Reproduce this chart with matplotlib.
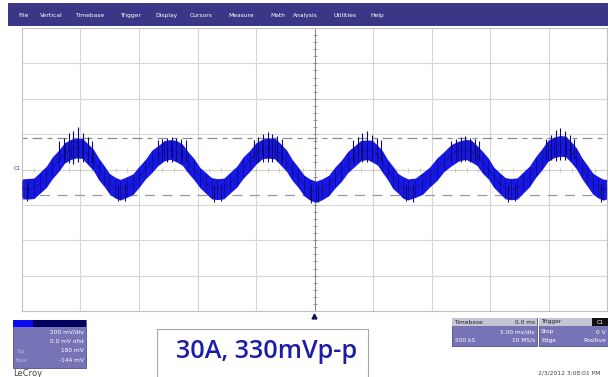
import numpy as np
import matplotlib.pyplot as plt
from matplotlib.patches import Rectangle

###########################################################
# data (time in ms, voltage in mV)

t_ms = [-25.0,
        -24.5, -23.98, -23.45, -22.93, -22.4, -21.88, -21.35, -20.83,
        -20.3, -19.84, -19.38, -18.91, -18.45, -17.99, -17.53, -17.06,
        -16.6, -16.06, -15.53, -14.99, -14.45, -13.91, -13.38, -12.84,
        -12.3, -11.8, -11.3, -10.8, -10.3, -9.8, -9.3, -8.8,
        -8.3, -7.75, -7.2, -6.65, -6.1, -5.55, -5.0, -4.45,
        -3.9, -3.4, -2.9, -2.4, -1.9, -1.4, -0.9, -0.4,
        0.1, 0.65, 1.2, 1.75, 2.3, 2.85, 3.4, 3.95,
        4.5, 4.94, 5.38, 5.81, 6.25, 6.69, 7.13, 7.56,
        8.0, 8.61, 9.23, 9.84, 10.45, 11.06, 11.68, 12.29,
        12.9, 13.39, 13.88, 14.36, 14.85, 15.34, 15.83, 16.31,
        16.8, 17.33, 17.85, 18.38, 18.9, 19.43, 19.95, 20.48,
        21.0, 21.46, 21.93, 22.39, 22.85, 23.31, 23.78, 24.24,
        24.7, 25.0]

v_mid = [-108,
         -113, -104, -78, -40, 6, 51, 89, 115,
         124, 115, 89, 51, 6, -40, -78, -104,
         -113, -104, -80, -43, 0, 43, 80, 104,
         113, 104, 80, 43, 0, -43, -80, -104,
         -113, -104, -78, -40, 6, 51, 89, 115,
         124, 115, 88, 47, 0, -47, -88, -115,
         -124, -115, -89, -51, -6, 40, 78, 104,
         113, 104, 80, 43, 0, -43, -80, -104,
         -113, -104, -80, -43, 0, 43, 80, 104,
         113, 104, 80, 43, 0, -43, -80, -104,
         -113, -104, -77, -36, 12, 59, 100, 127,
         136, 127, 100, 59, 12, -36, -77, -104,
         -113, -110]

# ripple band above / below the trace centre (mV)
band_up = [55,
           62, 56, 64, 58, 66, 57, 63, 55,
           54, 62, 57, 65, 59, 63, 56, 61,
           57, 63, 55, 61, 58, 66, 54, 60,
           56, 60, 64, 57, 62, 55, 63, 58,
           61, 55, 63, 58, 65, 56, 62, 57,
           55, 63, 58, 64, 56, 61, 57, 62,
           58, 62, 56, 65, 59, 63, 55, 60,
           54, 61, 57, 63, 56, 62, 58, 64,
           60, 55, 62, 57, 64, 58, 61, 56,
           57, 63, 56, 60, 65, 55, 62, 58,
           62, 57, 64, 56, 61, 58, 65, 57,
           56, 62, 58, 63, 55, 61, 57, 64,
           58, 55]
band_dn = [58,
           54, 60, 55, 62, 57, 63, 52, 58,
           58, 53, 61, 56, 64, 55, 60, 57,
           60, 54, 62, 57, 53, 61, 58, 55,
           55, 61, 56, 63, 58, 60, 54, 62,
           57, 62, 54, 60, 56, 63, 59, 53,
           60, 55, 63, 57, 62, 54, 61, 58,
           62, 56, 60, 54, 61, 57, 63, 55,
           56, 62, 55, 60, 58, 64, 53, 59,
           59, 54, 61, 56, 63, 55, 60, 57,
           55, 61, 57, 64, 53, 60, 56, 62,
           58, 63, 55, 61, 57, 62, 54, 60,
           61, 55, 60, 56, 63, 58, 62, 57,
           60, 56]

# ripple spikes around the crests and troughs
spike_t = [-21.8, -21.4, -21.0, -20.6, -20.2, -19.8, -19.4, -19.0,
           -13.4, -13.0, -12.6, -12.2, -11.8, -11.4, -11.0,
           -5.2, -4.8, -4.4, -4.0, -3.6, -3.2, -2.8,
           3.3, 3.7, 4.1, 4.5, 4.9, 5.3, 5.7,
           11.7, 12.1, 12.5, 12.9, 13.3, 13.7, 14.1,
           19.8, 20.2, 20.6, 21.0, 21.4, 21.8, 22.2,
           -24.6, -16.8, -16.2, -8.6, -8.0, -0.3, 0.3, 7.8, 8.4, 16.5, 17.1, 24.5]
spike_hi = [160, 180, 205, 215, 240, 205, 185, 160,
            165, 175, 180, 185, 178, 170, 165,
            165, 185, 200, 210, 200, 190, 170,
            165, 185, 205, 215, 195, 180, 165,
            160, 170, 182, 188, 180, 170, 160,
            175, 195, 222, 237, 215, 195, 175,
            -80, -85, -80, -85, -80, -90, -85, -80, -85, -85, -80, -80]
spike_lo = [50, 40, 35, 30, 40, 45, 40, 35,
            50, 45, 40, 45, 50, 45, 45,
            50, 45, 40, 40, 45, 50, 45,
            45, 40, 40, 45, 50, 50, 50,
            50, 45, 45, 50, 45, 50, 50,
            60, 55, 50, 55, 55, 60, 60,
            -180, -178, -180, -182, -178, -190, -185, -178, -182, -185, -178, -185]

# cursor levels (mV)
cursor_hi = 180
cursor_lo = -144

menu_items = ['File', 'Vertical', 'Timebase', 'Trigger', 'Display', 'Cursors',
              'Measure', 'Math', 'Analysis', 'Utilities', 'Help']
menu_x = [18, 40, 75, 120, 155, 190, 228, 270, 293, 333, 370]

ch_lines = ['200 mV/div', '0.0 mV ofst', '180 mV', '-144 mV']
caption = '30A, 330mVp-p'

###########################################################
# figure

W, H = 608, 377
fig = plt.figure(figsize=(W / 100, H / 100), dpi=100)
fig.patch.set_facecolor('white')

# overlay in pixel coordinates for the scope frame
ov = fig.add_axes([0, 0, 1, 1], zorder=0)
ov.set_xlim(0, W)
ov.set_ylim(H, 0)
ov.axis('off')

# menu bar
ov.add_patch(Rectangle((8, 3), 600, 23, facecolor='#3b3787', edgecolor='none'))
for name, x in zip(menu_items, menu_x):
    ov.text(x, 17, name, color='white', fontsize=4.3, va='baseline', ha='left')

# channel descriptor box
ov.add_patch(Rectangle((13, 320), 73, 48, facecolor='#7674b6', edgecolor='#50508a', lw=0.6))
ov.add_patch(Rectangle((13, 320), 73, 7, facecolor='#000060', edgecolor='none'))
ov.add_patch(Rectangle((13, 320), 20, 7, facecolor='#0a0af0', edgecolor='none'))
for i, s in enumerate(ch_lines):
    ov.text(84, 332 + i * 9.5, s, color='white', fontsize=4.2, ha='right', va='center')
ov.text(16, 351, 'Top', color='#b8b8e0', fontsize=3.5, ha='left', va='center')
ov.text(16, 360.5, 'Base', color='#b8b8e0', fontsize=3.5, ha='left', va='center')
ov.text(13, 373, 'LeCroy', color='#404048', fontsize=6, ha='left', va='center')

# caption box
ov.add_patch(Rectangle((157, 329), 211, 50, facecolor='white', edgecolor='#a8a8a8', lw=0.8))
ov.text(267, 352, caption, color='#1c1ca8', fontsize=18.2, ha='center', va='center',
        family='Open Sans', weight='semibold')

# timebase / trigger boxes
ov.add_patch(Rectangle((452, 318), 85, 28, facecolor='#7674b6', edgecolor='#50508a', lw=0.6))
ov.add_patch(Rectangle((452, 318), 85, 8, facecolor='#c4c4d4', edgecolor='none'))
ov.add_patch(Rectangle((539, 318), 69, 28, facecolor='#7674b6', edgecolor='#50508a', lw=0.6))
ov.add_patch(Rectangle((539, 318), 69, 8, facecolor='#c4c4d4', edgecolor='none'))
ov.add_patch(Rectangle((592, 318), 16, 8, facecolor='#101010', edgecolor='none'))
ov.text(454, 322, 'Timebase', color='#202030', fontsize=4.2, va='center')
ov.text(535, 322, '0.0 ms', color='#202030', fontsize=4.2, va='center', ha='right')
ov.text(541, 322, 'Trigger', color='#202030', fontsize=4.2, va='center')
ov.text(600, 322, 'C1', color='white', fontsize=3.8, va='center', ha='center')
ov.text(535, 332, '5.00 ms/div', color='white', fontsize=4.2, va='center', ha='right')
ov.text(455, 340.5, '500 kS', color='white', fontsize=4.2, va='center')
ov.text(535, 340.5, '10 MS/s', color='white', fontsize=4.2, va='center', ha='right')
ov.text(541, 332, 'Stop', color='white', fontsize=4.2, va='center')
ov.text(606, 332, '0 V', color='white', fontsize=4.2, va='center', ha='right')
ov.text(541, 340.5, 'Edge', color='white', fontsize=4.2, va='center')
ov.text(606, 340.5, 'Positive', color='white', fontsize=4.2, va='center', ha='right')
ov.text(601, 373, '2/3/2012 3:08:01 PM', color='#404048', fontsize=4.3, ha='right', va='center')

# channel marker and trigger position marker
ov.text(17, 168, 'C1', color='#2a2ad0', fontsize=3.8, ha='center', va='center')
ov.plot([314], [316], marker='^', color='#101060', markersize=3.5)

###########################################################
# scope screen

ax = fig.add_axes([22 / W, 1 - 311 / H, 585 / W, 283 / H], zorder=1)
ax.set_xlim(-25, 25)
ax.set_ylim(-800, 800)
ax.set_facecolor('white')

for x in range(-20, 25, 5):
    if x != 0:
        ax.axvline(x, color='#d6d6d6', lw=0.8, zorder=0)
for y in range(-600, 800, 200):
    if y != 0:
        ax.axhline(y, color='#d6d6d6', lw=0.8, zorder=0)
ax.axvline(0, color='#8a8a8a', lw=0.8, zorder=0)
ax.axhline(0, color='#d0d0c4', lw=0.8, zorder=0)
# centre graticule tick marks
ax.plot(np.zeros(39), np.arange(-760, 800, 40), ls='', marker='_', color='#8a8a8a',
        markersize=2.5, mew=0.6, zorder=0)
ax.plot(np.arange(-24, 25, 1), np.zeros(49), ls='', marker='|', color='#c0c0b4',
        markersize=2.5, mew=0.6, zorder=0)

ax.axhline(cursor_hi, color='#8c8c8c', lw=0.9, ls=(0, (4, 4, 8, 4)), zorder=1)
ax.axhline(cursor_lo, color='#9a9a9a', lw=0.9, ls=(0, (8, 6)), zorder=1)

t = np.array(t_ms)
vm = np.array(v_mid)
up = vm + np.array(band_up)
dn = vm - np.array(band_dn)
ax.fill_between(t, dn, up, color='#1818e6', lw=0, zorder=2)
ax.vlines(t, vm - 0.85 * np.array(band_dn), vm + 0.85 * np.array(band_up),
          color='#060650', lw=0.6, alpha=0.65, zorder=3)
ax.plot(t, vm, color='#0c0c9c', lw=1.0, alpha=0.5, zorder=3)
ax.vlines(spike_t, spike_lo, spike_hi, color='#0a0a70', lw=0.8, zorder=3)

for s in ax.spines.values():
    s.set_color('#c0c0c0')
    s.set_linewidth(0.8)
ax.set_xticks([])
ax.set_yticks([])

plt.savefig('out.png', dpi=100)
